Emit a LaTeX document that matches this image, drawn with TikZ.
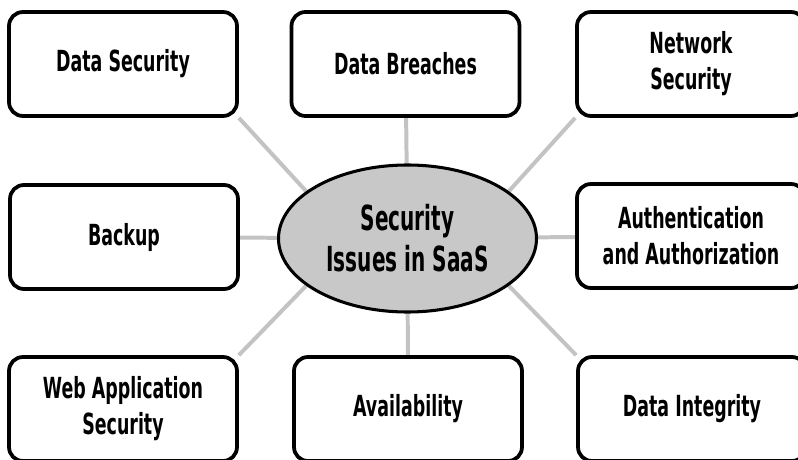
\documentclass[tikz,border=0pt]{standalone}
\usepackage{fontspec}
\newfontfamily\boxfont[FakeStretch=0.6]{DejaVu Sans}
\newfontfamily\hubfont[FakeStretch=0.58]{DejaVu Sans}
\usetikzlibrary{shapes.geometric,backgrounds}
\definecolor{hubfill}{RGB}{200,200,200}
\definecolor{linkgray}{RGB}{195,195,195}

\begin{document}
\begin{tikzpicture}[x=0.3mm,y=0.3mm,
    box/.style={draw,line width=3.2pt,rounded corners=4.2mm,fill=white,
        minimum width=68.4mm,minimum height=31.2mm,align=center,
        font=\boxfont\bfseries\fontsize{24.8}{30.7}\selectfont},
    hub/.style={ellipse,draw,line width=2.6pt,fill=hubfill,inner sep=0pt,
        minimum width=77.4mm,minimum height=44.1mm,align=center,
        font=\hubfont\bfseries\fontsize{29.5}{35}\selectfont},
    link/.style={draw=linkgray,line width=3.4pt}]
    \useasboundingbox (0,0) rectangle (798,459);

    % centre
    \node[hub] (c) at (407.5,220.5) {Security\\Issues in SaaS};

    % top row
    \node[box] (ds) at (123,395) {Data Security};
    \node[box] (db) at (405.5,395) {Data Breaches};
    \node[box] (ns) at (691,395) {Network\\Security};

    % middle row
    \node[box] (bk) at (124,222) {Backup};
    \node[box] (au) at (691,223) {Authentication\\and Authorization};

    % bottom row
    \node[box] (wa) at (123,50) {Web Application\\Security};
    \node[box] (av) at (408,50) {Availability};
    \node[box] (di) at (692,50) {Data Integrity};

    % links behind everything
    \begin{scope}[on background layer]
        \draw[link] (ds.south east) -- (c.155);
        \draw[link] (db) -- (c);
        \draw[link] (ns.south west) -- (c.25);
        \draw[link] (bk) -- (c);
        \draw[link] (au) -- (c);
        \draw[link] (wa.north east) -- (c.205);
        \draw[link] (av) -- (c);
        \draw[link] (di.north west) -- (c.335);
    \end{scope}
\end{tikzpicture}
\end{document}
